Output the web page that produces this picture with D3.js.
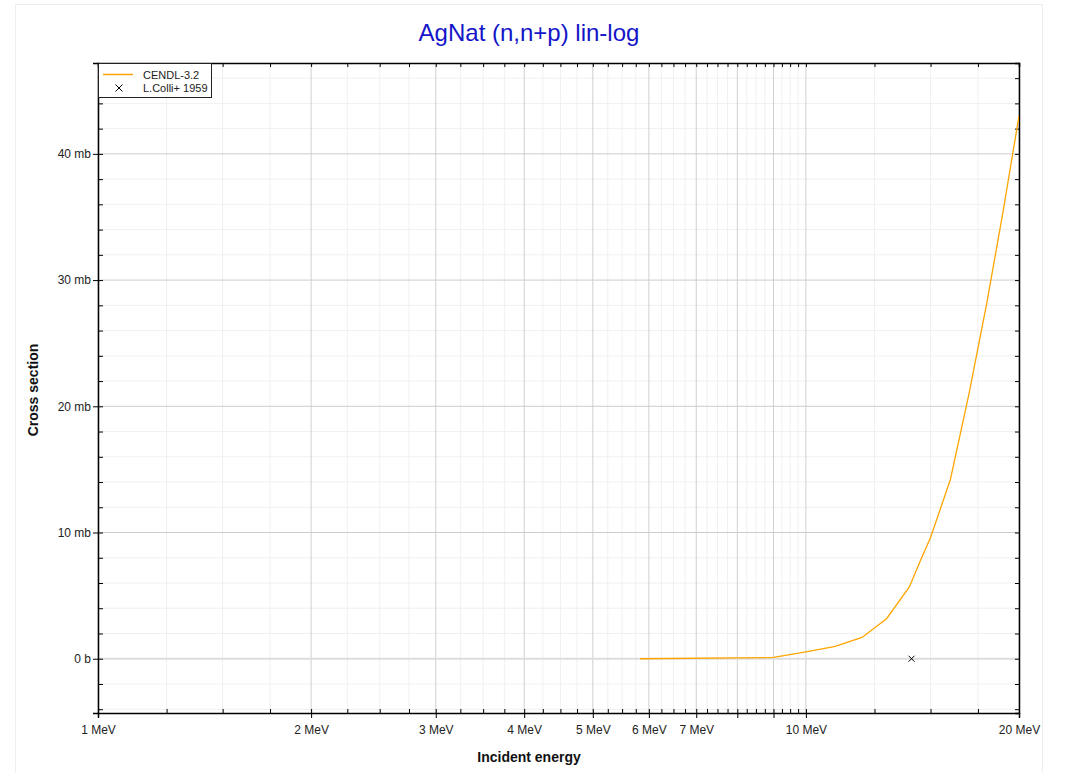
<!DOCTYPE html>
<html>
<head>
<meta charset="utf-8">
<script src="https://cdn.jsdelivr.net/npm/d3@7"></script>
<style>
  body { margin: 0; background: #fff; font-family: "Liberation Sans", Arial, sans-serif; }
  svg text { font-family: "Liberation Sans", Arial, sans-serif; }
</style>
</head>
<body>
<svg id="chart" width="1067" height="773"></svg>
<script>
// CENDL-3.2 evaluated curve (MeV, mb)
const cendlEnergy = [5.83, 9, 10, 11, 12, 13, 14, 14.5, 15, 16, 17, 18, 19, 20];
const cendlSigma  = [0, 0.1, 0.55, 0.98, 1.69, 3.17, 5.69, 7.72, 9.6, 14.2, 21.0, 28.1, 35.5, 43.0];

// EXFOR point
const colliEnergy = [14.1];
const colliSigma  = [0];

const xMajor = [1, 2, 3, 4, 5, 6, 7, 8, 9, 10, 20];
const xLabels = { 1: "1 MeV", 2: "2 MeV", 3: "3 MeV", 4: "4 MeV", 5: "5 MeV", 6: "6 MeV", 7: "7 MeV", 10: "10 MeV", 20: "20 MeV" };
const yMajor = [0, 10, 20, 30, 40];
const yLabels = ["0 b", "10 mb", "20 mb", "30 mb", "40 mb"];

const W = 1067, H = 773;
const margin = { top: 63, right: 48, bottom: 60, left: 98 };
const innerW = W - margin.left - margin.right;
const innerH = H - margin.top - margin.bottom;

const svg = d3.select("#chart");

// faint outer frame
svg.append("rect").attr("x", 15.5).attr("y", 4.5).attr("width", 1027).attr("height", 800)
  .attr("fill", "none").attr("stroke", "#eeeeee");

const x = d3.scaleLog().domain([1, 20]).range([0, innerW]);
const y = d3.scaleLinear().domain([-4.3, 47.2]).range([innerH, 0]);

// minor ticks: quarter steps between majors
const xMinor = [];
for (let i = 0; i < xMajor.length - 1; i++) {
  const a = xMajor[i], b = xMajor[i + 1];
  const step = (b - a) / 4;
  for (let k = 1; k < 4; k++) xMinor.push(a + k * step);
}
const yMinor = d3.range(-4, 47, 2).filter(v => v % 10 !== 0);

const g = svg.append("g").attr("transform", `translate(${margin.left},${margin.top})`);

// grid
g.append("g").selectAll("line").data(xMinor).join("line")
  .attr("x1", d => x(d)).attr("x2", d => x(d)).attr("y1", 0).attr("y2", innerH)
  .attr("stroke", "#f0f0f0");
g.append("g").selectAll("line").data(yMinor).join("line")
  .attr("y1", d => y(d)).attr("y2", d => y(d)).attr("x1", 0).attr("x2", innerW)
  .attr("stroke", "#f0f0f0");
g.append("g").selectAll("line").data(xMajor).join("line")
  .attr("x1", d => x(d)).attr("x2", d => x(d)).attr("y1", 0).attr("y2", innerH)
  .attr("stroke", "#d0d0d0");
g.append("g").selectAll("line").data(yMajor).join("line")
  .attr("y1", d => y(d)).attr("y2", d => y(d)).attr("x1", 0).attr("x2", innerW)
  .attr("stroke", d => d === 0 ? "#dddddd" : "#cccccc")
  .attr("stroke-width", d => d === 0 ? 2 : 1);

// axes
const bottomAxis = g.append("g").attr("transform", `translate(0,${innerH})`)
  .call(d3.axisBottom(x).tickValues(xMajor).tickSize(5).tickFormat(d => xLabels[d] || ""));
bottomAxis.selectAll(".tick line").attr("y1", -4);
g.append("g").attr("transform", `translate(0,${innerH})`)
  .call(d3.axisBottom(x).tickValues(xMinor).tickSize(-4).tickFormat(""))
  .select(".domain").remove();

g.append("g")
  .call(d3.axisTop(x).tickValues(xMajor.concat(xMinor)).tickSize(-4).tickFormat(""));

const leftAxis = g.append("g")
  .call(d3.axisLeft(y).tickValues(yMajor).tickSize(5).tickFormat((d, i) => yLabels[i]));
leftAxis.selectAll(".tick line").attr("x1", 5);
g.append("g")
  .call(d3.axisLeft(y).tickValues(yMinor).tickSize(-5).tickFormat(""))
  .select(".domain").remove();

g.append("g").attr("transform", `translate(${innerW},0)`)
  .call(d3.axisRight(y).tickValues(yMajor.concat(yMinor)).tickSize(-4).tickFormat(""));

g.selectAll(".domain").attr("stroke", "#000").attr("stroke-width", 1.5);
g.selectAll(".tick line").attr("stroke", "#000");
g.selectAll(".tick text").attr("font-size", 12).attr("fill", "#222");
bottomAxis.selectAll(".tick text").attr("dy", "1.05em");
leftAxis.selectAll(".tick text").attr("x", -7);

// data
const curve = cendlEnergy.map((e, i) => ({ e, s: cendlSigma[i] }));
g.append("clipPath").attr("id", "clip").append("rect")
  .attr("width", innerW).attr("height", innerH);
g.append("path").datum(curve)
  .attr("clip-path", "url(#clip)")
  .attr("fill", "none").attr("stroke", "#ffa500").attr("stroke-width", 1.3)
  .attr("d", d3.line().x(d => x(d.e)).y(d => y(d.s)));

const pts = colliEnergy.map((e, i) => ({ e, s: colliSigma[i] }));
g.append("g").selectAll("path").data(pts).join("path")
  .attr("transform", d => `translate(${x(d.e)},${y(d.s)})`)
  .attr("d", "M-3,-3L3,3M-3,3L3,-3")
  .attr("stroke", "#000").attr("stroke-width", 1);

// legend
const lg = g.append("g");
lg.append("rect").attr("x", 0.5).attr("y", 0.5).attr("width", 113).attr("height", 34)
  .attr("fill", "#fff").attr("stroke", "#222").attr("stroke-width", 1);
lg.append("line").attr("x1", 5).attr("x2", 35).attr("y1", 11.5).attr("y2", 11.5)
  .attr("stroke", "#ffa500").attr("stroke-width", 1.5);
lg.append("path").attr("transform", "translate(21,25)")
  .attr("d", "M-3.5,-3.5L3.5,3.5M-3.5,3.5L3.5,-3.5").attr("stroke", "#000").attr("stroke-width", 1);
lg.append("text").attr("x", 45).attr("y", 15.5).attr("font-size", 11).attr("fill", "#222").text("CENDL-3.2");
lg.append("text").attr("x", 45).attr("y", 29).attr("font-size", 11).attr("fill", "#222").text("L.Colli+ 1959");

// titles
svg.append("text").attr("x", 529).attr("y", 41).attr("text-anchor", "middle")
  .attr("font-size", 24).attr("fill", "#1414c8").text("AgNat (n,n+p) lin-log");
svg.append("text").attr("x", 529).attr("y", 762).attr("text-anchor", "middle")
  .attr("font-size", 14).attr("font-weight", "bold").attr("fill", "#111").text("Incident energy");
svg.append("text").attr("transform", "translate(38,390) rotate(-90)").attr("text-anchor", "middle")
  .attr("font-size", 14).attr("font-weight", "bold").attr("fill", "#111").text("Cross section");
</script>
</body>
</html>
